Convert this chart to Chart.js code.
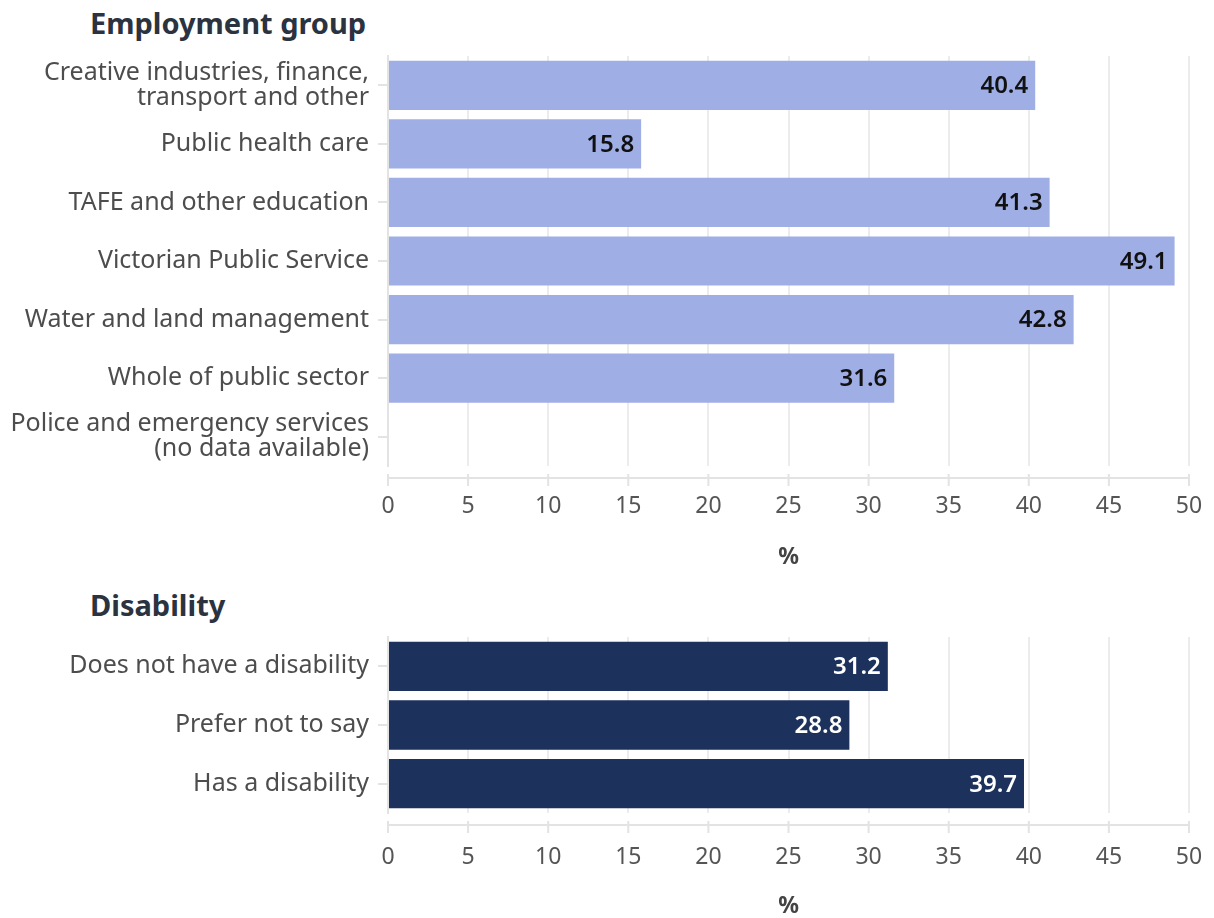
<!DOCTYPE html>
<html>
<head>
<meta charset="utf-8">
<script src="https://cdn.jsdelivr.net/npm/chart.js@4.4.1/dist/chart.umd.min.js"></script>
<style>
  body { margin: 0; background: #fff; width: 1214px; height: 918px; position: relative; overflow: hidden; font-family: "Noto Sans", sans-serif; }
  .title { position: absolute; left: 90px; margin: 0; font-size: 29px; font-weight: 700; color: #2b3240; line-height: 1; }
  canvas { position: absolute; left: 0; }
</style>
</head>
<body>
<h2 class="title" style="top: 8px;">Employment group</h2>
<canvas id="empChart" width="1214" height="578" style="top:0;"></canvas>
<h2 class="title" style="top: 590px;">Disability</h2>
<canvas id="disChart" width="1214" height="338" style="top:580px;"></canvas>
<script>
// data
const empLabels = [
  ['Creative industries, finance,', 'transport and other'],
  'Public health care',
  'TAFE and other education',
  'Victorian Public Service',
  'Water and land management',
  'Whole of public sector',
  ['Police and emergency services', '(no data available)']
];
const empValues = [40.4, 15.8, 41.3, 49.1, 42.8, 31.6, null];

const disLabels = ['Does not have a disability', 'Prefer not to say', 'Has a disability'];
const disValues = [31.2, 28.8, 39.7];

const xMin = 0;
const xMax = 50;
const xStep = 5;
const axisTitle = '%';

const gridColor = '#ececec';

// value labels inside the bar end
const barValuePlugin = {
  id: 'barValues',
  afterDatasetsDraw(chart, args, opts) {
    const ctx = chart.ctx;
    const meta = chart.getDatasetMeta(0);
    const data = chart.data.datasets[0].data;
    ctx.save();
    ctx.font = '600 24px "Noto Sans"';
    ctx.fillStyle = opts.color;
    ctx.textAlign = 'right';
    ctx.textBaseline = 'middle';
    meta.data.forEach((bar, i) => {
      if (data[i] == null) return;
      ctx.fillText(data[i].toFixed(1), bar.x - 7, bar.y + 1);
    });
    ctx.restore();
  }
};

// x axis line sitting a little below the plot area, with tick marks
const lowAxisPlugin = {
  id: 'lowAxis',
  afterDraw(chart) {
    const { ctx, chartArea, scales } = chart;
    const x = scales.x;
    const y0 = chartArea.bottom + 12;
    ctx.save();
    ctx.strokeStyle = '#e3e3e3';
    ctx.lineWidth = 2;
    ctx.beginPath();
    ctx.moveTo(chartArea.left, y0);
    ctx.lineTo(chartArea.right, y0);
    x.ticks.forEach(t => {
      const px = x.getPixelForValue(t.value);
      ctx.moveTo(px, y0 - 4);
      ctx.lineTo(px, y0 + 8);
    });
    ctx.stroke();
    ctx.restore();
  }
};

function makeChart(id, labels, values, barColor, textColor, padTop, axisHeight, tickPad, titlePad) {
  return new Chart(document.getElementById(id), {
    type: 'bar',
    data: {
      labels: labels,
      datasets: [{
        data: values,
        backgroundColor: barColor,
        borderWidth: 0,
        categoryPercentage: 1,
        barPercentage: 0.84
      }]
    },
    plugins: [barValuePlugin, lowAxisPlugin],
    options: {
      indexAxis: 'y',
      responsive: false,
      animation: false,
      layout: { padding: { top: padTop, right: 25, left: 0, bottom: 0 } },
      plugins: {
        legend: { display: false },
        tooltip: { enabled: false },
        barValues: { color: textColor }
      },
      scales: {
        x: {
          min: xMin,
          max: xMax,
          ticks: {
            stepSize: xStep,
            color: '#555',
            padding: tickPad,
            maxRotation: 0,
            font: { family: 'Noto Sans', size: 23 }
          },
          grid: { color: gridColor, lineWidth: 2, drawTicks: false },
          border: { display: false },
          title: {
            display: true,
            text: axisTitle,
            color: '#444',
            padding: { top: 0, bottom: titlePad },
            font: { family: 'Noto Sans', size: 23, weight: 'bold', lineHeight: 1 }
          },
          afterFit(scale) {
            scale.height = axisHeight;
            scale.paddingLeft = 0;
            scale.paddingRight = 0;
          }
        },
        y: {
          ticks: {
            color: '#4d4d4d',
            padding: 9,
            font: { family: 'Noto Sans', size: 25, lineHeight: 1.0 }
          },
          grid: { color: '#e3e3e3', offset: false, drawOnChartArea: false, tickLength: 10, lineWidth: 2 },
          border: { color: '#e3e3e3', width: 2 },
          afterFit(scale) {
            scale.width = 388;
            scale.paddingTop = 0;
            scale.paddingBottom = 0;
          }
        }
      }
    }
  });
}

makeChart('empChart', empLabels, empValues, '#a0aee6', '#111', 56, 112, 27, 9);
makeChart('disChart', disLabels, disValues, '#1c315c', '#fff', 57, 105, 31, 0);
</script>
</body>
</html>
